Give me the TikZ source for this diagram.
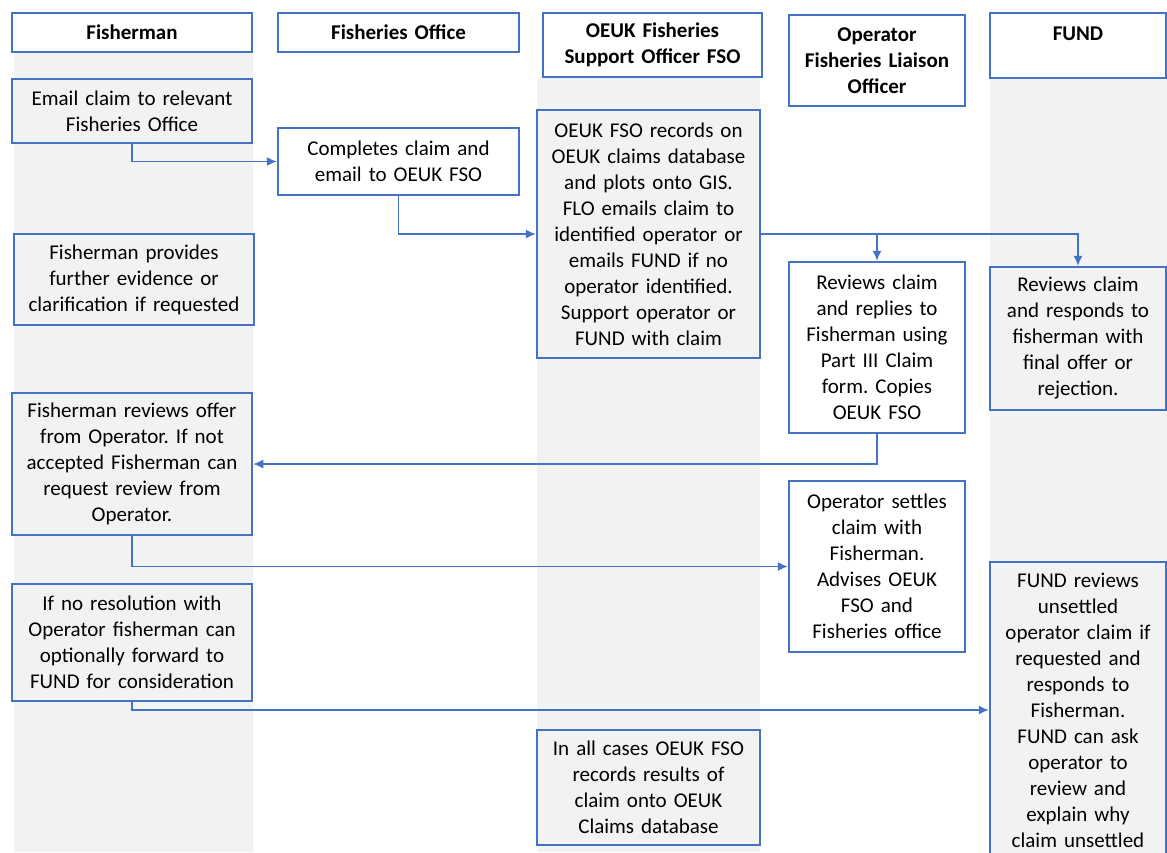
\documentclass[tikz,border=0pt]{standalone}
\usepackage{fontspec}
\setmainfont{Carlito}
\frenchspacing
\usetikzlibrary{arrows.meta}
\definecolor{laneblue}{HTML}{4472C4}
\definecolor{lanegray}{HTML}{F2F2F2}
\tikzset{
  box/.style={draw=laneblue, line width=1.25pt, inner sep=0pt, align=center,
    font=\fontsize{10.5}{13}\selectfont},
  gbox/.style={box, fill=lanegray},
  wbox/.style={box, fill=white},
  head/.style={wbox, font=\bfseries\fontsize{10.5}{13}\selectfont},
  flow/.style={draw=laneblue, line width=0.65pt, -{Latex[length=5pt,width=4.5pt]}},
}
\begin{document}
\begin{tikzpicture}[x=0.5pt,y=-0.5pt]
    \useasboundingbox (0,0) rectangle (1167,852);
    \clip (0,0) rectangle (1167,852);
    % lanes
    \fill[lanegray] (14,52) rectangle (253,852);
    \fill[lanegray] (537,77) rectangle (760,852);
    \fill[lanegray] (990,78) rectangle (1167,852);

    % headers
    \node[head, text width=120pt, minimum height=19.5pt] (hfish) at (132,32.5) {Fisherman};
    \node[head, text width=120.5pt, minimum height=19.5pt] (hoffice) at (398.5,32.5) {Fisheries Office};
    \node[head, text width=109.5pt, minimum height=32pt] (hfso) at (652.5,45) {OEUK Fisheries\\Support Officer FSO};
    \node[head, text width=88pt, minimum height=45.5pt] (hflo) at (877,60.5) {Operator\\Fisheries Liaison\\Officer};
    \node[head, text width=88pt, minimum height=32.5pt] (hfund) at (1078,45.5) {\strut FUND\\[-3pt]\strut};

    % steps
    \node[gbox, text width=120pt, minimum height=32pt] (f1) at (132,111)
      {Email claim to relevant\\Fisheries Office};
    \node[wbox, text width=120.5pt, minimum height=33.5pt] (o1) at (398.5,161.5)
      {Completes claim and\\email to OEUK FSO};
    \node[gbox, text width=111.5pt, minimum height=124pt] (s1) at (648.5,234)
      {OEUK FSO records on\\OEUK claims database\\and plots onto GIS.\\FLO emails claim to\\identified operator or\\emails FUND if no\\operator identified.\\Support operator or\\FUND with claim};
    \node[gbox, text width=120pt, minimum height=45.5pt] (f2) at (134,279.5)
      {Fisherman provides\\further evidence or\\clarification if requested};
    \node[wbox, text width=88pt, minimum height=85.5pt] (p1) at (877,347.5)
      {Reviews claim\\and replies to\\Fisherman using\\Part III Claim\\form. Copies\\OEUK FSO};
    \node[gbox, text width=88pt, minimum height=71.5pt] (u1) at (1078,338.5)
      {Reviews claim\\and responds to\\fisherman with\\final offer or\\rejection.};
    \node[gbox, text width=120pt, minimum height=71pt] (f3) at (132,464)
      {Fisherman reviews offer\\from Operator. If not\\accepted Fisherman can\\request review from\\Operator.};
    \node[wbox, text width=88pt, minimum height=85.5pt] (p2) at (877,566.5)
      {Operator settles\\claim with\\Fisherman.\\Advises OEUK\\FSO and\\Fisheries office};
    \node[gbox, text width=120pt, minimum height=58.5pt] (f4) at (132,642.5)
      {If no resolution with\\Operator fisherman can\\optionally forward to\\FUND for consideration};
    \node[gbox, text width=88pt, minimum height=148pt] (u2) at (1078,710)
      {FUND reviews\\unsettled\\operator claim if\\requested and\\responds to\\Fisherman.\\FUND can ask\\operator to\\review and\\explain why\\claim unsettled};
    \node[gbox, text width=111.5pt, minimum height=57.5pt] (s2) at (648.5,787.5)
      {In all cases OEUK FSO\\records results of\\claim onto OEUK\\Claims database};

    % connectors
    \draw[flow] (f1.south) |- (o1.west);
    \draw[flow] (o1.south) |- (s1.west);
    \draw[flow] (s1.east) -| (p1.north);
    \draw[flow] (s1.east) -| (u1.north);
    \draw[flow] (p1.south) |- (f3.east);
    \draw[flow] (f3.south) |- (p2.west);
    \draw[flow] (f4.south) |- (u2.west);
\end{tikzpicture}
\end{document}
